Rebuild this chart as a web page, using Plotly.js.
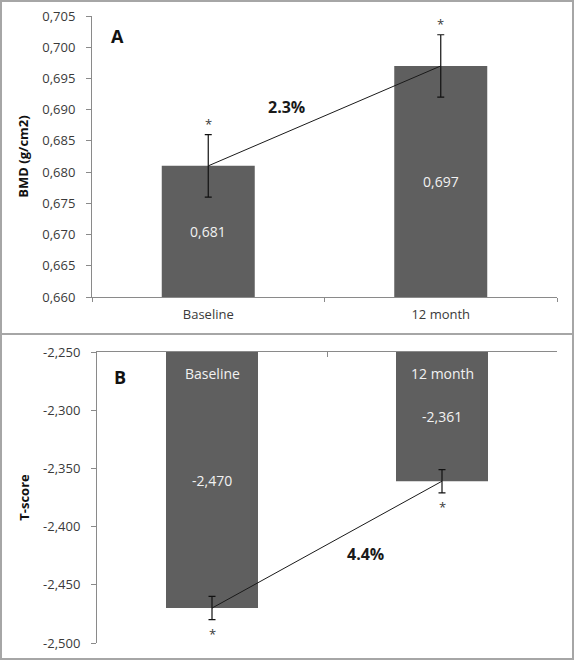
<!DOCTYPE html>
<html>
<head>
<meta charset="utf-8">
<script src="https://cdn.plot.ly/plotly-3.0.1.min.js"></script>
<style>
  html, body { margin: 0; padding: 0; background: #ffffff; }
  #chart { width: 575px; height: 661px; }
</style>
</head>
<body>
<div id="chart"></div>
<script>
// ---- data ----
var categories = ['Baseline', '12 month'];
var bmdValues = [0.681, 0.697];
var bmdErrors = [0.005, 0.005];
var bmdLabels = ['0,681', '0,697'];
var tscoreValues = [-2.470, -2.361];
var tscoreErrors = [0.010, 0.010];
var tscoreLabels = ['-2,470', '-2,361'];
var bmdTickVals = [0.660, 0.665, 0.670, 0.675, 0.680, 0.685, 0.690, 0.695, 0.700, 0.705];
var bmdTickText = ['0,660', '0,665', '0,670', '0,675', '0,680', '0,685', '0,690', '0,695', '0,700', '0,705'];
var tTickVals = [-2.500, -2.450, -2.400, -2.350, -2.300, -2.250];
var tTickText = ['-2,500', '-2,450', '-2,400', '-2,350', '-2,300', '-2,250'];
var changeLabels = ['2.3%', '4.4%'];
var panelLabels = ['A', 'B'];
var bmdTitle = 'BMD (g/cm2)';
var tTitle = 'T-score';

// ---- styling ----
var W = 575, H = 661;
var FONT = 'Open Sans, Liberation Sans, sans-serif';
var barColor = '#5f5f5f';
var axisColor = '#8a8a8a';
var textColor = '#3a3a3a';
var inBarColor = '#f2f2f2';
function px(x) { return x / W; }
function py(y) { return 1 - y / H; }

var bmdBase = bmdTickVals[0];
var tBase = tTickVals[tTickVals.length - 1];

var traces = [
  {
    type: 'bar', x: categories, y: bmdValues, width: 0.4,
    marker: { color: barColor }, xaxis: 'x', yaxis: 'y', hoverinfo: 'skip'
  },
  {
    type: 'scatter', mode: 'lines', x: categories, y: bmdValues,
    line: { color: '#1a1a1a', width: 1 },
    error_y: { type: 'data', array: bmdErrors, visible: true, color: '#111111', thickness: 1.2, width: 3.5 },
    xaxis: 'x', yaxis: 'y', hoverinfo: 'skip'
  },
  {
    type: 'bar', x: categories, y: tscoreValues.map(function (v) { return v - tBase; }), base: tBase, width: 0.4,
    marker: { color: barColor }, xaxis: 'x2', yaxis: 'y2', hoverinfo: 'skip'
  },
  {
    type: 'scatter', mode: 'lines', x: categories, y: tscoreValues,
    line: { color: '#1a1a1a', width: 1 },
    error_y: { type: 'data', array: tscoreErrors, visible: true, color: '#111111', thickness: 1.2, width: 3.5 },
    xaxis: 'x2', yaxis: 'y2', hoverinfo: 'skip'
  }
];

var annotations = [];
categories.forEach(function (c, i) {
  // value labels centred in each bar
  annotations.push({ x: c, y: (bmdValues[i] + bmdBase) / 2, xref: 'x', yref: 'y', text: bmdLabels[i], showarrow: false,
    xanchor: 'center', yanchor: 'middle', font: { family: FONT, size: 14, color: inBarColor } });
  annotations.push({ x: c, y: (tscoreValues[i] + tBase) / 2, xref: 'x2', yref: 'y2', text: tscoreLabels[i], showarrow: false,
    xanchor: 'center', yanchor: 'middle', font: { family: FONT, size: 14, color: inBarColor } });
  // category labels inside bottom bars
  annotations.push({ x: c, y: tBase, xref: 'x2', yref: 'y2', text: c, showarrow: false,
    xanchor: 'center', yanchor: 'middle', yshift: -21, font: { family: FONT, size: 14, color: inBarColor } });
  // asterisks
  annotations.push({ x: c, y: bmdValues[i] + bmdErrors[i], xref: 'x', yref: 'y', text: '*', showarrow: false,
    xanchor: 'center', yanchor: 'bottom', font: { family: FONT, size: 13, color: textColor } });
  annotations.push({ x: c, y: tscoreValues[i] - tscoreErrors[i], xref: 'x2', yref: 'y2', text: '*', showarrow: false,
    xanchor: 'center', yanchor: 'top', yshift: -3, font: { family: FONT, size: 13, color: textColor } });
});
annotations.push({ x: px(286), y: py(107), xref: 'paper', yref: 'paper', text: '<b>' + changeLabels[0] + '</b>',
  xanchor: 'center', yanchor: 'middle', showarrow: false, font: { family: FONT, size: 16, color: '#1a1a1a' } });
annotations.push({ x: px(365), y: py(554), xref: 'paper', yref: 'paper', text: '<b>' + changeLabels[1] + '</b>',
  xanchor: 'center', yanchor: 'middle', showarrow: false, font: { family: FONT, size: 16, color: '#1a1a1a' } });
annotations.push({ x: px(117), y: py(36), xref: 'paper', yref: 'paper', text: '<b>' + panelLabels[0] + '</b>',
  xanchor: 'center', yanchor: 'middle', showarrow: false, font: { family: FONT, size: 18, color: '#111111' } });
annotations.push({ x: px(120), y: py(377), xref: 'paper', yref: 'paper', text: '<b>' + panelLabels[1] + '</b>',
  xanchor: 'center', yanchor: 'middle', showarrow: false, font: { family: FONT, size: 18, color: '#111111' } });

var commonY = {
  showgrid: false, zeroline: false, showline: true, linecolor: axisColor, linewidth: 1,
  ticks: 'outside', ticklen: 5, tickcolor: axisColor, tickwidth: 1,
  tickfont: { family: FONT, size: 13, color: textColor }, ticklabelstandoff: 8
};

var layout = {
  width: W, height: H,
  margin: { l: 0, r: 0, t: 0, b: 0, autoexpand: false },
  paper_bgcolor: '#ffffff', plot_bgcolor: '#ffffff',
  showlegend: false,
  font: { family: FONT, color: textColor },
  xaxis: {
    domain: [px(92), px(557)], anchor: 'y', type: 'category', range: [-0.5, 1.5],
    showgrid: false, zeroline: false, showline: true, linecolor: axisColor, linewidth: 1,
    ticks: 'outside', tickson: 'boundaries', ticklen: 4, tickcolor: axisColor,
    tickfont: { family: FONT, size: 13, color: textColor }, ticklabelstandoff: 5
  },
  yaxis: Object.assign({}, commonY, {
    domain: [py(297), py(16)], anchor: 'x', range: [bmdTickVals[0], bmdTickVals[bmdTickVals.length - 1]],
    tickmode: 'array', tickvals: bmdTickVals, ticktext: bmdTickText,
    title: { text: '<b>' + bmdTitle + '</b>', font: { family: FONT, size: 13, color: '#111111' }, standoff: 10 }
  }),
  xaxis2: {
    domain: [px(97), px(557)], anchor: 'y2', side: 'top', type: 'category', range: [-0.5, 1.5],
    showgrid: false, zeroline: false, showline: true, linecolor: axisColor, linewidth: 1,
    ticks: 'inside', tickson: 'boundaries', ticklen: 5, tickcolor: axisColor,
    showticklabels: false
  },
  yaxis2: Object.assign({}, commonY, {
    domain: [py(643), py(352)], anchor: 'x2', range: [tTickVals[0], tTickVals[tTickVals.length - 1]],
    tickmode: 'array', tickvals: tTickVals, ticktext: tTickText,
    title: { text: '<b>' + tTitle + '</b>', font: { family: FONT, size: 13, color: '#111111' }, standoff: 10 }
  }),
  annotations: annotations,
  shapes: [
    { type: 'rect', xref: 'paper', yref: 'paper', x0: px(1), x1: px(573), y0: py(659), y1: py(1),
      line: { color: '#a6a6a6', width: 2 } },
    { type: 'line', xref: 'paper', yref: 'paper', x0: px(1), x1: px(573), y0: py(334), y1: py(334),
      line: { color: '#a6a6a6', width: 2 } }
  ]
};

Plotly.newPlot('chart', traces, layout, { staticPlot: true, displayModeBar: false });
</script>
</body>
</html>
